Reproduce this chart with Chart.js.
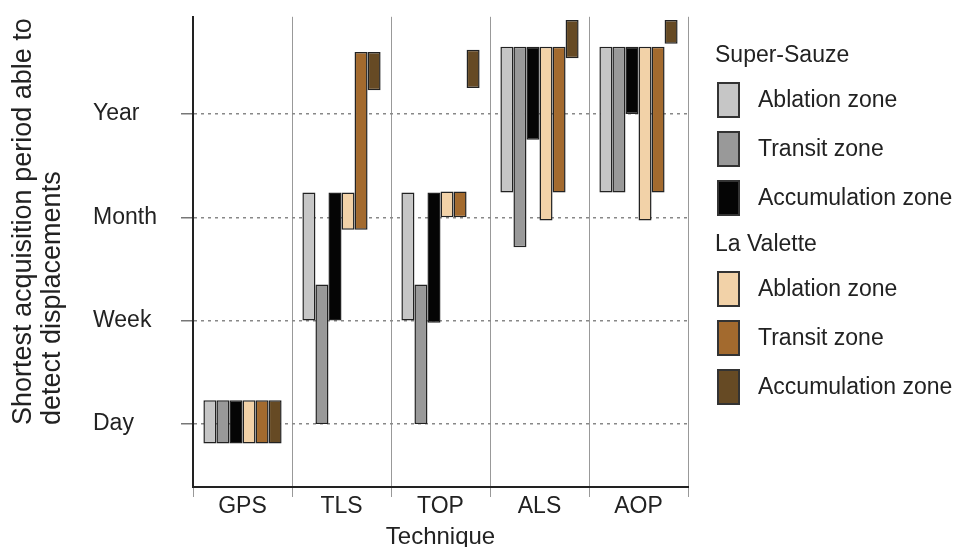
<!DOCTYPE html>
<html>
<head>
<meta charset="utf-8">
<script src="https://cdn.jsdelivr.net/npm/chart.js@4/dist/chart.umd.min.js"></script>
<style>
  body { margin: 0; background: #fff; font-family: 'Liberation Sans', Arial, sans-serif; }
  #wrap { position: relative; width: 964px; height: 547px; }
  #legend { position: absolute; left: 715px; top: 33px; color: #222; font-size: 23px; }
  .hdr { height: 42px; line-height: 42px; }
  .row { height: 49px; display: flex; align-items: center; padding-left: 2px; }
  .box { width: 23px; height: 36px; box-sizing: border-box; border: 2px solid #333; margin-right: 18px; }
</style>
</head>
<body>
<div id="wrap">
  <canvas id="chart" width="964" height="547"></canvas>
  <div id="legend"></div>
</div>
<script>
// techniques and the time ladder (1 = Day ... 4 = Year)
const techniques = ['GPS', 'TLS', 'TOP', 'ALS', 'AOP'];
const yTickValues = [1, 2, 3, 4];
const yTickLabels = ['Day', 'Week', 'Month', 'Year'];
const sites = ['Super-Sauze', 'La Valette'];
const zones = ['Ablation zone', 'Transit zone', 'Accumulation zone'];

// [shortest, longest] per technique
const ssAblation     = [[0.81, 1.23], [2.0, 3.24], [2.0, 3.24], [3.24, 4.65], [3.24, 4.65]];
const ssTransit      = [[0.81, 1.23], [1.0, 2.35], [1.0, 2.35], [2.71, 4.65], [3.24, 4.65]];
const ssAccumulation = [[0.81, 1.23], [2.0, 3.24], [1.98, 3.24], [3.75, 4.65], [4.0, 4.65]];
const lvAblation     = [[0.81, 1.23], [2.88, 3.24], [3.0, 3.25], [2.97, 4.65], [2.97, 4.65]];
const lvTransit      = [[0.81, 1.23], [2.88, 4.6], [3.0, 3.25], [3.24, 4.65], [3.24, 4.65]];
const lvAccumulation = [[0.81, 1.23], [4.23, 4.6], [4.25, 4.62], [4.54, 4.91], [4.68, 4.91]];

const seriesData = [ssAblation, ssTransit, ssAccumulation, lvAblation, lvTransit, lvAccumulation];
const seriesColors = ['#c6c6c6', '#999999', '#050505', '#f2d2a8', '#a36a2e', '#664a24'];

const FONT = "'Liberation Sans', Arial, sans-serif";

const datasets = seriesData.map((d, i) => ({
    label: sites[Math.floor(i / 3)] + ' - ' + zones[i % 3],
    data: d,
    backgroundColor: seriesColors[i],
    borderColor: '#222',
    borderWidth: 1.5,
    borderSkipped: false,
    categoryPercentage: 0.79,
    barPercentage: 1.0
}));

// rotated two-line y title, start aligned like the original
const yTitle = {
    id: 'yTitle',
    afterDraw(chart) {
        const ctx = chart.ctx;
        const lines = ['Shortest acquisition period able to', 'detect displacements'];
        ctx.save();
        ctx.font = '27px ' + FONT;
        ctx.fillStyle = '#222';
        ctx.textAlign = 'left';
        ctx.textBaseline = 'middle';
        lines.forEach((t, i) => {
            ctx.save();
            ctx.translate(24 + i * 29, 425);
            ctx.rotate(-Math.PI / 2);
            ctx.fillText(t, 0, 0);
            ctx.restore();
        });
        ctx.restore();
    }
};

new Chart(document.getElementById('chart'), {
    type: 'bar',
    data: { labels: techniques, datasets: datasets },
    options: {
        responsive: false,
        animation: false,
        layout: { padding: { left: 93, right: 276, top: 15, bottom: 0 } },
        plugins: { legend: { display: false }, tooltip: { enabled: false } },
        scales: {
            x: {
                afterFit: s => { s.height = 60; },
                grid: { offset: true, color: '#999', lineWidth: 1, tickLength: 10, tickColor: '#999' },
                border: { color: '#222', width: 2 },
                ticks: { color: '#222', font: { size: 23, family: FONT }, padding: -4 },
                title: { display: true, text: 'Technique', color: '#222', font: { size: 24, family: FONT }, padding: { top: 0, bottom: -5 } }
            },
            y: {
                min: 0.39,
                max: 4.94,
                afterFit: s => { s.width = 100; },
                afterBuildTicks: s => { s.ticks = yTickValues.map(v => ({ value: v })); },
                grid: { color: '#888', lineWidth: 1.5, tickLength: 12, tickColor: '#777', tickBorderDash: [] },
                border: { color: '#222', width: 2, dash: [3, 4] },
                ticks: {
                    crossAlign: 'far',
                    color: '#222',
                    font: { size: 23, family: FONT },
                    callback: v => yTickLabels[yTickValues.indexOf(v)]
                }
            }
        }
    },
    plugins: [yTitle]
});

// legend grouped by site
const legend = document.getElementById('legend');
sites.forEach((site, s) => {
    const h = document.createElement('div');
    h.className = 'hdr';
    h.textContent = site;
    legend.appendChild(h);
    zones.forEach((zone, z) => {
        const row = document.createElement('div');
        row.className = 'row';
        const box = document.createElement('span');
        box.className = 'box';
        box.style.background = seriesColors[s * 3 + z];
        row.appendChild(box);
        row.appendChild(document.createTextNode(zone));
        legend.appendChild(row);
    });
});
</script>
</body>
</html>
